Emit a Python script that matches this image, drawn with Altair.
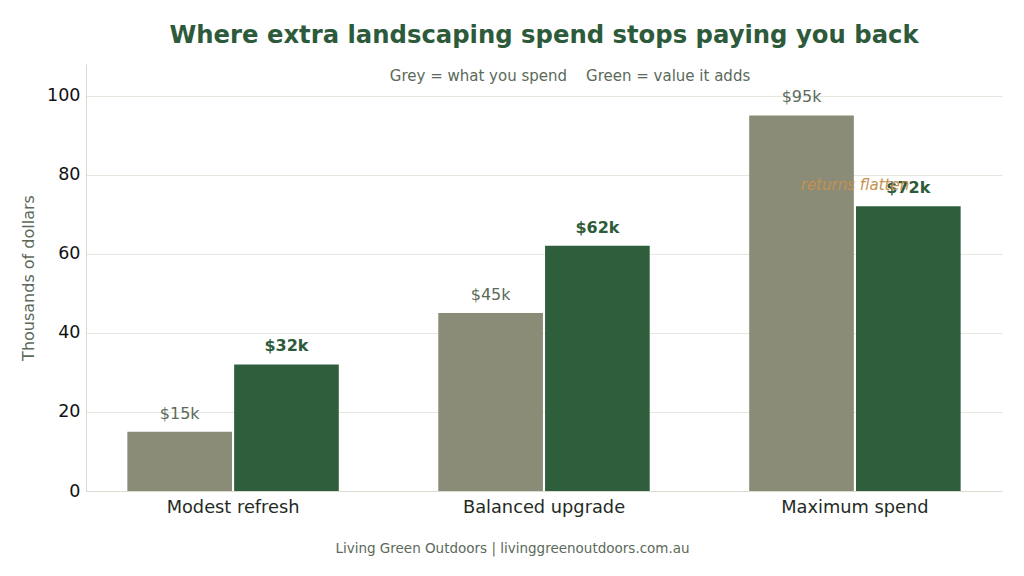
import altair as alt
import pandas as pd

categories = ["Modest refresh", "Balanced upgrade", "Maximum spend"]
spend = [15, 45, 95]
value_added = [32, 62, 72]
series_names = ["Spend", "Value"]

GREY = "#8a8c77"
GREEN = "#2f5e3c"
TEXT_GREY = "#5b6a5a"
DARK_GREEN = "#2d5a3a"
ANNOT = "#c4914f"

rows = []
for c, s, v in zip(categories, spend, value_added):
    rows.append({"category": c, "series": "Spend", "amount": s, "label": f"${s}k"})
    rows.append({"category": c, "series": "Value", "amount": v, "label": f"${v}k"})
df = pd.DataFrame(rows)

annot_df = pd.DataFrame({"category": ["Maximum spend"], "amount": [77.5], "text": ["returns flatten"]})

x_enc = alt.X(
    "category:N",
    sort=categories,
    scale=alt.Scale(paddingInner=0.32, paddingOuter=0.133),
    axis=alt.Axis(
        title="Living Green Outdoors | livinggreenoutdoors.com.au",
        labelAngle=0,
        labelFontSize=17.8,
        labelColor="#1f2b1f",
        labelPadding=7,
        ticks=False,
        domainColor="#d9dccf",
        titleFontSize=13.5,
        titleFontWeight="normal",
        titleColor=TEXT_GREY,
        titlePadding=24,
        titleX=426,
        titleY=50,
    ),
)
y_scale = alt.Scale(domain=[0, 108], nice=False)

base = alt.Chart(df)

bars = base.mark_bar().encode(
    x=x_enc,
    xOffset=alt.XOffset("series:N", sort=series_names, scale=alt.Scale(paddingInner=0.02)),
    y=alt.Y(
        "amount:Q",
        scale=y_scale,
        axis=alt.Axis(
            title="Thousands of dollars",
            values=[0, 20, 40, 60, 80, 100],
            labelFontSize=17.5,
            labelColor="#111111",
            labelPadding=6,
            ticks=False,
            grid=True,
            gridColor="#e6e7df",
            domainColor="#d9dccf",
            titleFontSize=16,
            titleFontWeight="normal",
            titleColor=TEXT_GREY,
            titlePadding=10,
        ),
    ),
    color=alt.Color("series:N", scale=alt.Scale(domain=series_names, range=[GREY, GREEN]), legend=None),
)

spend_labels = base.transform_filter(alt.datum.series == "Spend").mark_text(
    dy=-18, fontSize=16, color=TEXT_GREY, baseline="middle"
).encode(
    x=alt.X("category:N", sort=categories),
    xOffset=alt.XOffset("series:N", sort=series_names),
    y=alt.Y("amount:Q", scale=y_scale),
    text="label:N",
)

value_labels = base.transform_filter(alt.datum.series == "Value").mark_text(
    dy=-18, fontSize=16, color=DARK_GREEN, fontWeight="bold", baseline="middle"
).encode(
    x=alt.X("category:N", sort=categories),
    xOffset=alt.XOffset("series:N", sort=series_names),
    y=alt.Y("amount:Q", scale=y_scale),
    text="label:N",
)

annot = alt.Chart(annot_df).mark_text(
    fontSize=15, fontStyle="italic", color=ANNOT, baseline="middle"
).encode(
    x=alt.X("category:N", sort=categories),
    y=alt.Y("amount:Q", scale=y_scale),
    text="text:N",
)

subtitle_text = "Grey = what you spend\u00a0\u00a0\u00a0\u00a0Green = value it adds"
subtitle = alt.Chart(pd.DataFrame({"t": [subtitle_text]})).mark_text(
    fontSize=15, color=TEXT_GREY, baseline="middle"
).encode(x=alt.value(484), y=alt.value(12), text="t:N")

chart = alt.layer(bars, spend_labels, value_labels, annot, subtitle).properties(
    width=916,
    height=427,
    autosize=alt.AutoSizeParams(type="none"),
    padding={"left": 78, "top": 56, "right": 14, "bottom": 77},
    title=alt.TitleParams(
        "Where extra landscaping spend stops paying you back",
        fontSize=24.3,
        fontWeight="bold",
        color=DARK_GREEN,
        anchor="middle",
        offset=16,
    ),
).configure(
    font="DejaVu Sans",
    background="white",
).configure_view(stroke=None)

chart.save("out.html", embed_options={"renderer": "svg", "actions": False})
